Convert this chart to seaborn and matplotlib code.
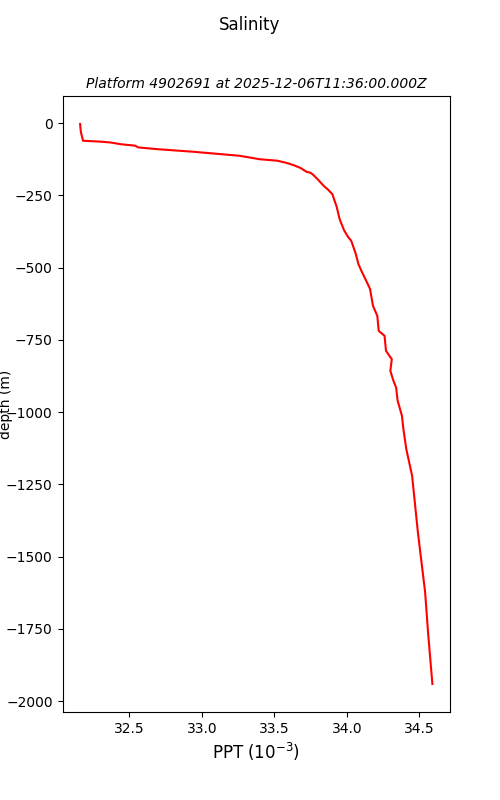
import matplotlib
matplotlib.use("Agg")
import matplotlib.pyplot as plt
import seaborn as sns
import pandas as pd

# salinity profile (PPT vs depth in m)
salinity = [32.16, 32.162, 32.165, 32.18, 32.30, 32.37, 32.44, 32.54, 32.56, 32.69,
            32.94, 33.26, 33.40, 33.52, 33.58, 33.63, 33.68, 33.72, 33.75, 33.77,
            33.80, 33.84, 33.87, 33.90, 33.93, 33.95, 33.98, 34.01, 34.03, 34.06,
            34.08, 34.10, 34.15, 34.16, 34.18, 34.21, 34.22, 34.26, 34.27, 34.31,
            34.30, 34.32, 34.34, 34.35, 34.38, 34.39, 34.41, 34.45, 34.49, 34.54,
            34.56, 34.59]
depth = [-3, -15, -30, -61, -64, -67, -73, -78, -84, -90,
         -99, -113, -125, -130, -137, -145, -155, -168, -172, -180,
         -195, -217, -230, -246, -290, -332, -370, -395, -407, -450,
         -488, -511, -563, -574, -632, -667, -719, -736, -788, -817,
         -857, -890, -915, -960, -1013, -1059, -1128, -1220, -1416, -1624,
         -1762, -1941]

title = "Salinity"
subtitle = "Platform 4902691 at 2025-12-06T11:36:00.000Z"

df = pd.DataFrame({"salinity": salinity, "depth": depth})

fig, ax = plt.subplots(figsize=(5, 8), dpi=100)
sns.lineplot(data=df, x="salinity", y="depth", sort=False, estimator=None,
             color="red", linewidth=1.5, ax=ax)

fig.suptitle(title, fontsize=12)
ax.set_title(subtitle, fontsize=10, style="italic")
ax.set_xlabel("PPT ($10^{-3}$)", fontsize=12)
ax.set_ylabel("depth (m)", fontsize=10)
ax.yaxis.set_label_coords(-0.128, 0.5)

fig.savefig("out.png", dpi=100)
